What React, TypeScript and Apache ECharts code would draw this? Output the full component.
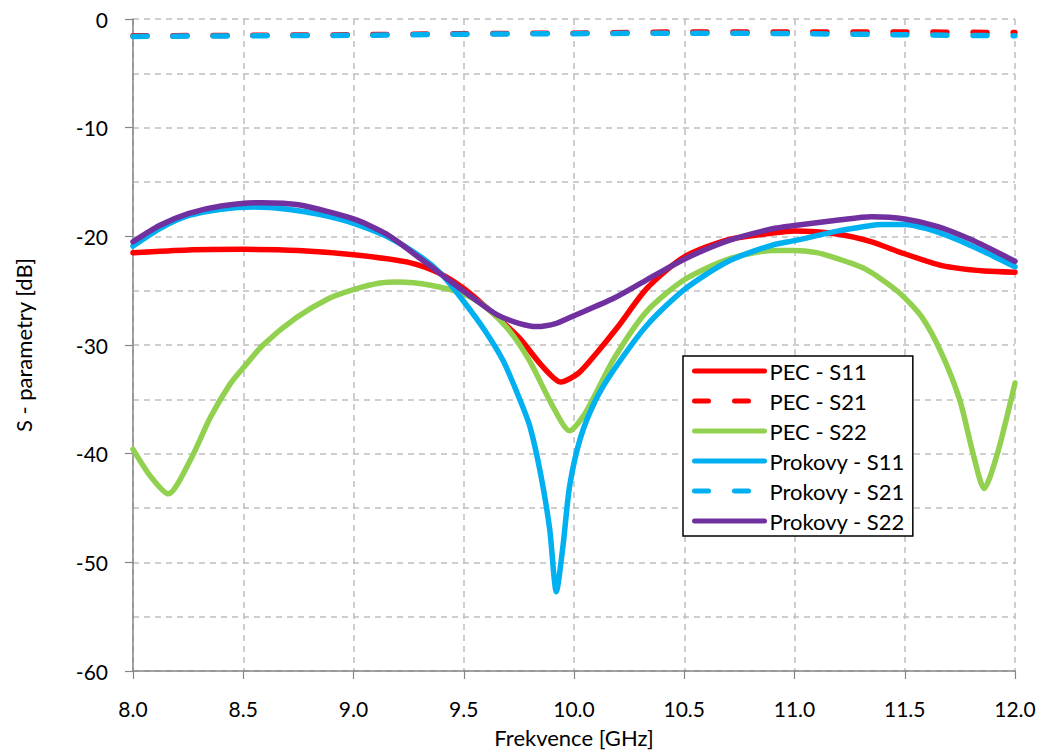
import React, { useEffect, useRef } from "react";
import * as echarts from "echarts";

const seriesNames = ["PEC - S11", "PEC - S21", "PEC - S22", "Prokovy - S11", "Prokovy - S21", "Prokovy - S22"];
const seriesColors = ["#FF0000", "#FF0000", "#92D050", "#00B0F0", "#00B0F0", "#7030A0"];
const seriesDashed = [false, true, false, false, true, false];

const xTicks = ["8.0", "8.5", "9.0", "9.5", "10.0", "10.5", "11.0", "11.5", "12.0"];
const yTicks = [0, -10, -20, -30, -40, -50, -60];

const pecS11: number[][] = [
  [8.0, -21.5], [8.25, -21.25], [8.5, -21.2], [8.75, -21.3], [9.0, -21.7], [9.25, -22.4], [9.4, -23.5],
  [9.5, -24.8], [9.6, -26.5], [9.75, -29.3], [9.85, -31.8], [9.94, -33.4], [10.02, -32.6], [10.1, -30.8],
  [10.2, -28.3], [10.33, -24.8], [10.5, -21.9], [10.7, -20.3], [10.9, -19.7], [11.0, -19.5], [11.2, -19.8],
  [11.35, -20.5], [11.47, -21.4], [11.67, -22.7], [11.86, -23.2], [12.0, -23.3],
];
const pecS21: number[][] = [
  [8.0, -1.55], [8.5, -1.5], [9.0, -1.45], [9.5, -1.35], [10.0, -1.3], [10.5, -1.2], [11.0, -1.2], [11.5, -1.2], [12.0, -1.25],
];
const pecS22: number[][] = [
  [8.0, -39.6], [8.08, -42.1], [8.16, -43.7], [8.26, -40.6], [8.35, -36.7], [8.44, -33.6], [8.5, -32.1], [8.59, -30.0],
  [8.74, -27.5], [8.89, -25.7], [9.0, -24.9], [9.12, -24.3], [9.2, -24.2], [9.35, -24.5], [9.5, -25.3], [9.6, -26.5],
  [9.7, -28.5], [9.8, -31.5], [9.9, -35.5], [9.98, -37.9], [10.05, -36.3], [10.18, -31.3], [10.33, -26.9],
  [10.5, -24.0], [10.7, -22.1], [10.9, -21.3], [11.0, -21.3], [11.1, -21.5], [11.17, -21.9], [11.32, -23.0],
  [11.47, -25.1], [11.58, -27.5], [11.67, -30.9], [11.75, -35.1], [11.81, -40.0], [11.86, -43.2], [11.92, -40.0], [12.0, -33.5],
];
const proS11: number[][] = [
  [8.0, -20.9], [8.12, -19.3], [8.25, -18.1], [8.4, -17.5], [8.55, -17.3], [8.7, -17.5], [8.85, -18.0], [9.0, -18.8],
  [9.15, -20.0], [9.3, -21.8], [9.4, -23.5], [9.5, -26.0], [9.6, -28.8], [9.68, -31.5], [9.75, -34.8], [9.8, -37.5],
  [9.85, -42.0], [9.89, -47.0], [9.92, -52.7], [9.95, -48.5], [9.98, -43.0], [10.03, -38.5], [10.1, -35.0],
  [10.18, -32.3], [10.33, -28.2], [10.5, -24.9], [10.7, -22.3], [10.9, -20.8], [11.0, -20.4], [11.2, -19.5],
  [11.4, -18.9], [11.5, -18.9], [11.6, -19.3], [11.75, -20.4], [11.9, -21.8], [12.0, -22.8],
];
const proS21: number[][] = [
  [8.0, -1.6], [8.5, -1.55], [9.0, -1.5], [9.5, -1.4], [10.0, -1.35], [10.5, -1.3], [11.0, -1.35], [11.5, -1.45], [12.0, -1.55],
];
const proS22: number[][] = [
  [8.0, -20.5], [8.12, -19.0], [8.25, -17.9], [8.4, -17.2], [8.58, -16.9], [8.75, -17.1], [9.0, -18.4], [9.15, -19.8],
  [9.3, -22.0], [9.45, -24.3], [9.55, -25.8], [9.65, -27.2], [9.75, -28.0], [9.83, -28.3], [9.92, -28.0], [10.0, -27.3],
  [10.18, -25.7], [10.33, -24.0], [10.5, -22.1], [10.7, -20.4], [10.9, -19.3], [11.0, -19.0], [11.2, -18.5],
  [11.35, -18.2], [11.5, -18.4], [11.65, -19.1], [11.8, -20.3], [12.0, -22.3],
];

const allData = [pecS11, pecS21, pecS22, proS11, proS21, proS22];

const FONT = "Lato, 'Open Sans', sans-serif";

export default function App() {
  const ref = useRef<HTMLDivElement>(null);
  useEffect(() => {
    if (!ref.current) return;
    const chart = echarts.init(ref.current, undefined, { renderer: "svg" });
    const gridColor = "#BFBFBF";
    const axisColor = "#868686";
    chart.setOption({
      animation: false,
      backgroundColor: "#ffffff",
      textStyle: { fontFamily: FONT },
      grid: { left: 133, right: 26, top: 19, bottom: 79, containLabel: false },
      legend: {
        orient: "vertical",
        left: 683,
        top: 356,
        data: seriesNames,
        backgroundColor: "#ffffff",
        borderColor: "#000000",
        borderWidth: 1.5,
        borderRadius: 0,
        padding: [4, 8, 4, 9],
        itemWidth: 70,
        itemHeight: 14,
        itemGap: 8,
        itemStyle: { opacity: 0 },
        lineStyle: { width: 5, cap: "round" },
        textStyle: { fontSize: 22, lineHeight: 22, color: "#000", fontFamily: FONT },
      },
      xAxis: {
        type: "value",
        min: 8,
        max: 12,
        interval: 0.5,
        name: "Frekvence [GHz]",
        nameLocation: "middle",
        nameGap: 55,
        nameTextStyle: { fontSize: 22, color: "#000", fontFamily: FONT },
        axisLine: { show: true, onZero: false, lineStyle: { color: axisColor, width: 1.5 } },
        axisTick: { show: true, inside: false, length: 8, lineStyle: { color: axisColor, width: 1.2 } },
        axisLabel: {
          fontSize: 21,
          color: "#000",
          margin: 27,
          fontFamily: FONT,
          formatter: (v: number) => {
            const s = v.toFixed(1);
            return xTicks.indexOf(s) >= 0 ? s : "";
          },
        },
        splitLine: { show: true, lineStyle: { color: gridColor, type: [6, 5], width: 1.5 } },
      },
      yAxis: {
        type: "value",
        min: -60,
        max: 0,
        interval: 10,
        name: "S - parametry [dB]",
        nameLocation: "middle",
        nameGap: 99,
        nameTextStyle: { fontSize: 22, color: "#000", fontFamily: FONT },
        axisLine: { show: true, lineStyle: { color: axisColor, width: 1.5 } },
        axisTick: { show: true, length: 8, lineStyle: { color: axisColor, width: 1.2 } },
        axisLabel: {
          fontSize: 21,
          color: "#000",
          margin: 25,
          fontFamily: FONT,
          formatter: (v: number) => (yTicks.indexOf(v) >= 0 ? String(v) : ""),
        },
        splitLine: { show: true, lineStyle: { color: gridColor, type: [6, 5], width: 1.5 } },
        minorTick: { show: false, splitNumber: 2 },
        minorSplitLine: { show: true, lineStyle: { color: gridColor, type: [6, 5], width: 1.5 } },
      },
      series: allData.map((d, i) => ({
        name: seriesNames[i],
        type: "line",
        data: d,
        smooth: 0.25,
        symbol: "none",
        showSymbol: false,
        color: seriesColors[i],
        lineStyle: {
          color: seriesColors[i],
          width: 5.5,
          type: seriesDashed[i] ? [14, 26] : "solid",
          cap: "round",
          join: "round",
        },
      })),
    });
    return () => chart.dispose();
  }, []);
  return (
    <div
      ref={ref}
      style={{ position: "absolute", left: 0, top: 0, width: 1041, height: 753 }}
    />
  );
}
